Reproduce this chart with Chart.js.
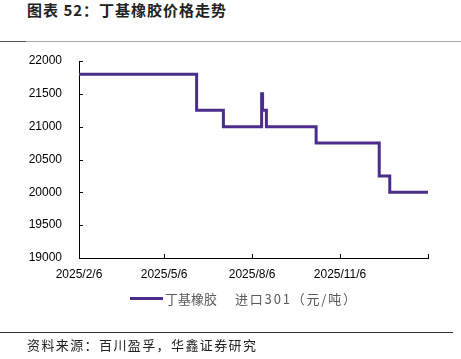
<!DOCTYPE html>
<html>
<head>
<meta charset="utf-8">
<script src="https://cdn.jsdelivr.net/npm/chart.js@4"></script>
<style>
  body { margin: 0; background: #fff; }
  #wrap { position: relative; width: 461px; height: 359px; overflow: hidden; }
  #chart { position: absolute; left: 0; top: 0; }
  .title { position: absolute; left: 27px; top: 0px; font: bold 15px "Noto Sans CJK SC"; letter-spacing: 1px; color: #222; line-height: 20px; }
  .rule-top { position: absolute; left: 0; top: 41px; width: 461px; height: 1px; background: #a6a6a6; }
  .rule-top-dark { position: absolute; left: 0; top: 41px; width: 26px; height: 1px; background: #555; }
  .rule-bottom { position: absolute; left: 0; top: 332px; width: 453px; height: 1px; background: #333; }
  .source { position: absolute; left: 27px; top: 336px; font: 13px "Noto Sans CJK SC"; letter-spacing: 1.4px; color: #222; line-height: 18px; }
  .legend { position: absolute; left: 130px; top: 289px; height: 18px; display: flex; align-items: center; font: 13px "Noto Sans CJK SC"; color: #595959; white-space: pre; }
  .legend .swatch { width: 33px; height: 3px; background: #4b2d8c; margin-right: 2px; }
  .legend #legendB { margin-left: 18px; letter-spacing: 1.8px; }
</style>
</head>
<body>
<div id="wrap">
  <div class="title">图表 52：丁基橡胶价格走势</div>
  <div class="rule-top"></div>
  <div class="rule-top-dark"></div>
  <canvas id="chart" width="461" height="359"></canvas>
  <div class="legend"><span class="swatch"></span><span id="legendA"></span><span id="legendB"></span></div>
  <div class="rule-bottom"></div>
  <div class="source">资料来源：百川盈孚，华鑫证券研究</div>
</div>
<script>
// 价格变动日期及价格（元/吨）
const changeDates = ['2025-02-06', '2025-06-09', '2025-07-07', '2025-08-16', '2025-08-17',
                     '2025-08-21', '2025-10-12', '2025-12-17', '2025-12-28', '2026-02-06'];
const prices = [21800, 21250, 21000, 21500, 21250, 21000, 20750, 20250, 20000, 20000];
const seriesName = '丁基橡胶 进口301（元/吨）';
const xTickDates = ['2025-02-06', '2025-05-06', '2025-08-06', '2025-11-06', '2026-02-06'];
const xTickLabels = ['2025/2/6', '2025/5/6', '2025/8/6', '2025/11/6', ''];
const yTicks = [19000, 19500, 20000, 20500, 21000, 21500, 22000];

const startDay = Date.UTC(2025, 1, 6);
function dayOf(s) {
    const p = s.split('-');
    return Math.round((Date.UTC(+p[0], +p[1] - 1, +p[2]) - startDay) / 86400000);
}
const points = changeDates.map((d, i) => ({ x: dayOf(d), y: prices[i] }));
const xTickDays = xTickDates.map(dayOf);

const purple = '#4b2d8c';
const nameParts = seriesName.split(' ');
document.getElementById('legendA').textContent = nameParts[0];
document.getElementById('legendB').textContent = nameParts[1];

// 刻度线向内画
const innerTicks = {
    id: 'innerTicks',
    afterDraw(chart) {
        const c = chart.ctx, a = chart.chartArea;
        const xs = chart.scales.x, ys = chart.scales.y;
        c.save();
        c.strokeStyle = '#000';
        c.lineWidth = 1;
        c.beginPath();
        yTicks.forEach(v => {
            const py = Math.round(ys.getPixelForValue(v)) + 0.5;
            c.moveTo(a.left, py); c.lineTo(a.left + 4, py);
        });
        xTickDays.forEach(v => {
            const px = Math.round(xs.getPixelForValue(v)) + 0.5;
            c.moveTo(px, a.bottom); c.lineTo(px, a.bottom - 4);
        });
        c.stroke();
        c.restore();
    }
};

new Chart(document.getElementById('chart').getContext('2d'), {
    type: 'line',
    data: {
        datasets: [{
            label: seriesName,
            data: points,
            borderColor: purple,
            backgroundColor: purple,
            borderWidth: 3,
            stepped: true,
            pointRadius: 0
        }]
    },
    options: {
        responsive: false,
        animation: false,
        layout: { padding: { top: 61, right: 33, bottom: 73, left: 0 } },
        scales: {
            x: {
                type: 'linear',
                min: 0,
                max: 365,
                afterBuildTicks: s => { s.ticks = xTickDays.map(v => ({ value: v })); },
                afterFit: s => { s.height = 28; },
                grid: { display: false },
                border: { display: true, color: '#000', width: 1 },
                ticks: {
                    autoSkip: false,
                    maxRotation: 0,
                    padding: 1,
                    color: '#000',
                    font: { family: 'Liberation Sans', size: 12 },
                    callback: v => xTickLabels[xTickDays.indexOf(v)]
                }
            },
            y: {
                min: 19000,
                max: 22000,
                afterBuildTicks: s => { s.ticks = yTicks.map(v => ({ value: v })); },
                afterFit: s => { s.width = 79; },
                grid: { display: false },
                border: { display: true, color: '#000', width: 1 },
                ticks: {
                    padding: 9,
                    color: '#000',
                    font: { family: 'Liberation Sans', size: 12 },
                    callback: v => String(v)
                }
            }
        },
        plugins: {
            tooltip: { enabled: false },
            legend: { display: false }
        }
    },
    plugins: [innerTicks]
});
</script>
</body>
</html>
